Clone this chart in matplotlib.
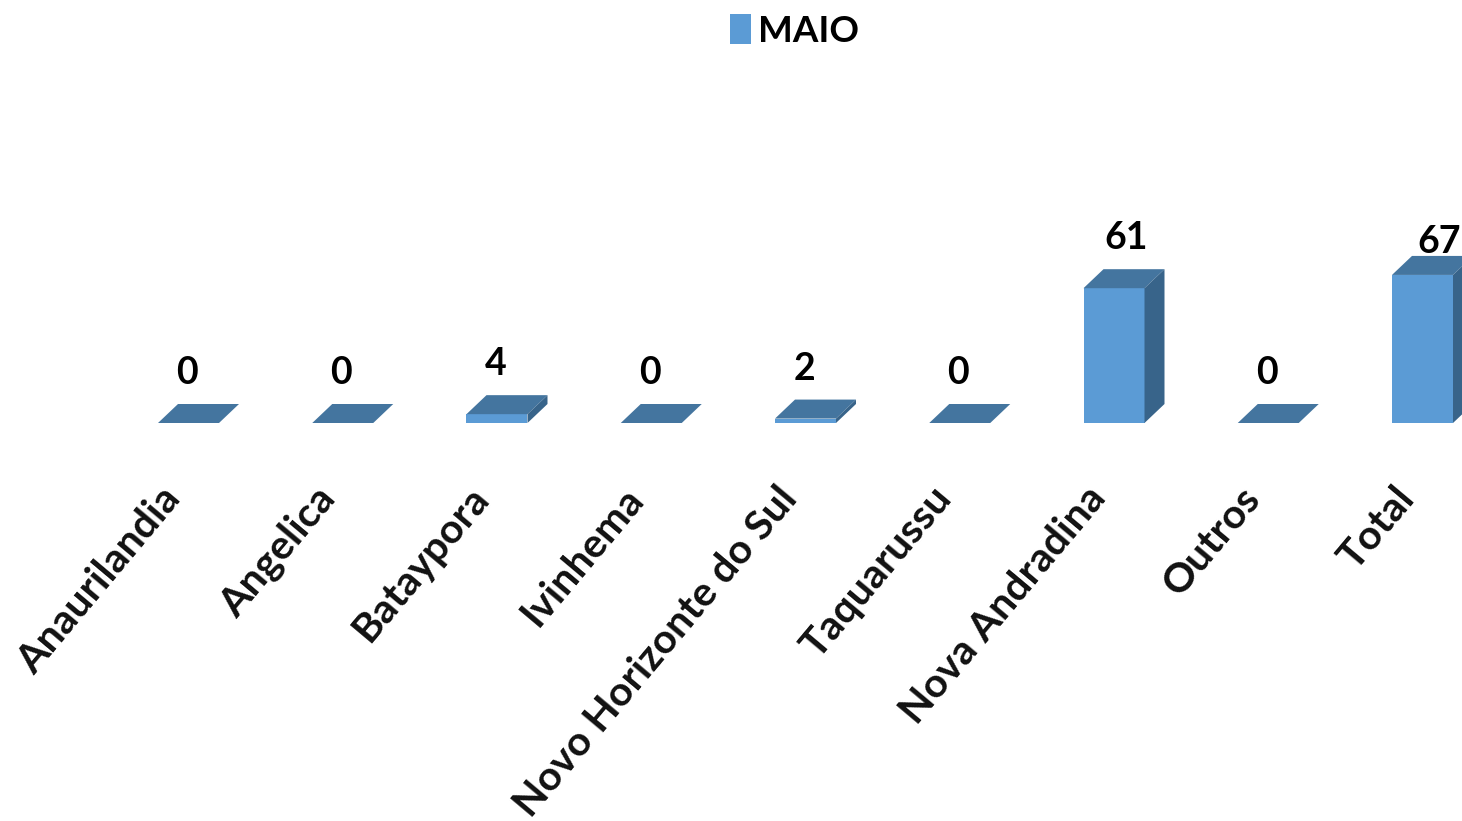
import matplotlib
matplotlib.use("Agg")
from matplotlib import pyplot as plt
from matplotlib.patches import Polygon

categories = ["Anaurilandia", "Angelica", "Bataypora", "Ivinhema", "Novo Horizonte do Sul",
              "Taquarussu", "Nova Andradina", "Outros", "Total"]
maio = [0, 0, 4, 0, 2, 0, 61, 0, 67]

# value labels are not centred on the tall bars in the original
label_dx = [-1, -1, -1, -1, -1, -1, 9, -1, 12]
label_dy = [10, 10, 10, 10, 10, 10, 10, 10, -2]

W, H = 1462, 821
step = 154.25      # px between bars
first = 188.5      # px centre of first bar
base = 423         # px of zero line
scale = 2.21       # px per unit

plt.rcParams["font.family"] = ["Lato", "DejaVu Sans"]

fig = plt.figure(figsize=(W / 100, H / 100), dpi=100)
ax = fig.add_axes([0, 0, 1, 1])
ax.set_xlim(-first / step, (W - first) / step)
ax.set_ylim(-(H - base) / scale, base / scale)
ax.axis("off")

front = "#5B9BD5"
top = "#44759F"
side = "#38648A"
width = 61 / step
dx = 20 / step
dy = 19 / scale

bars = ax.bar(range(len(maio)), maio, width=width, color=front, label="MAIO")

for i, v in enumerate(maio):
    l = i - width / 2
    r = i + width / 2
    ax.add_patch(Polygon([(l, v), (r, v), (r + dx, v + dy), (l + dx, v + dy)], color=top, lw=0))
    ax.add_patch(Polygon([(r, 0), (r + dx, dy), (r + dx, v + dy), (r, v)], color=side, lw=0))
    ax.annotate(str(v), (i, v + dy), xytext=(label_dx[i], label_dy[i]), textcoords="offset points",
                ha="center", va="bottom", fontsize=27, fontweight="bold", color="black")
    ax.annotate(categories[i], (i, 0), xytext=(-21, -41), textcoords="offset points",
                ha="right", va="top", rotation=50, rotation_mode="anchor",
                fontsize=29.5, fontweight="bold", color="#111111")

ax.legend(loc="upper center", bbox_to_anchor=(0.5435, 1.023), frameon=False,
          handlelength=0.56, handleheight=0.85, handletextpad=0.2, prop={"weight": "bold", "size": 26.5})

fig.savefig("out.png", dpi=100)
